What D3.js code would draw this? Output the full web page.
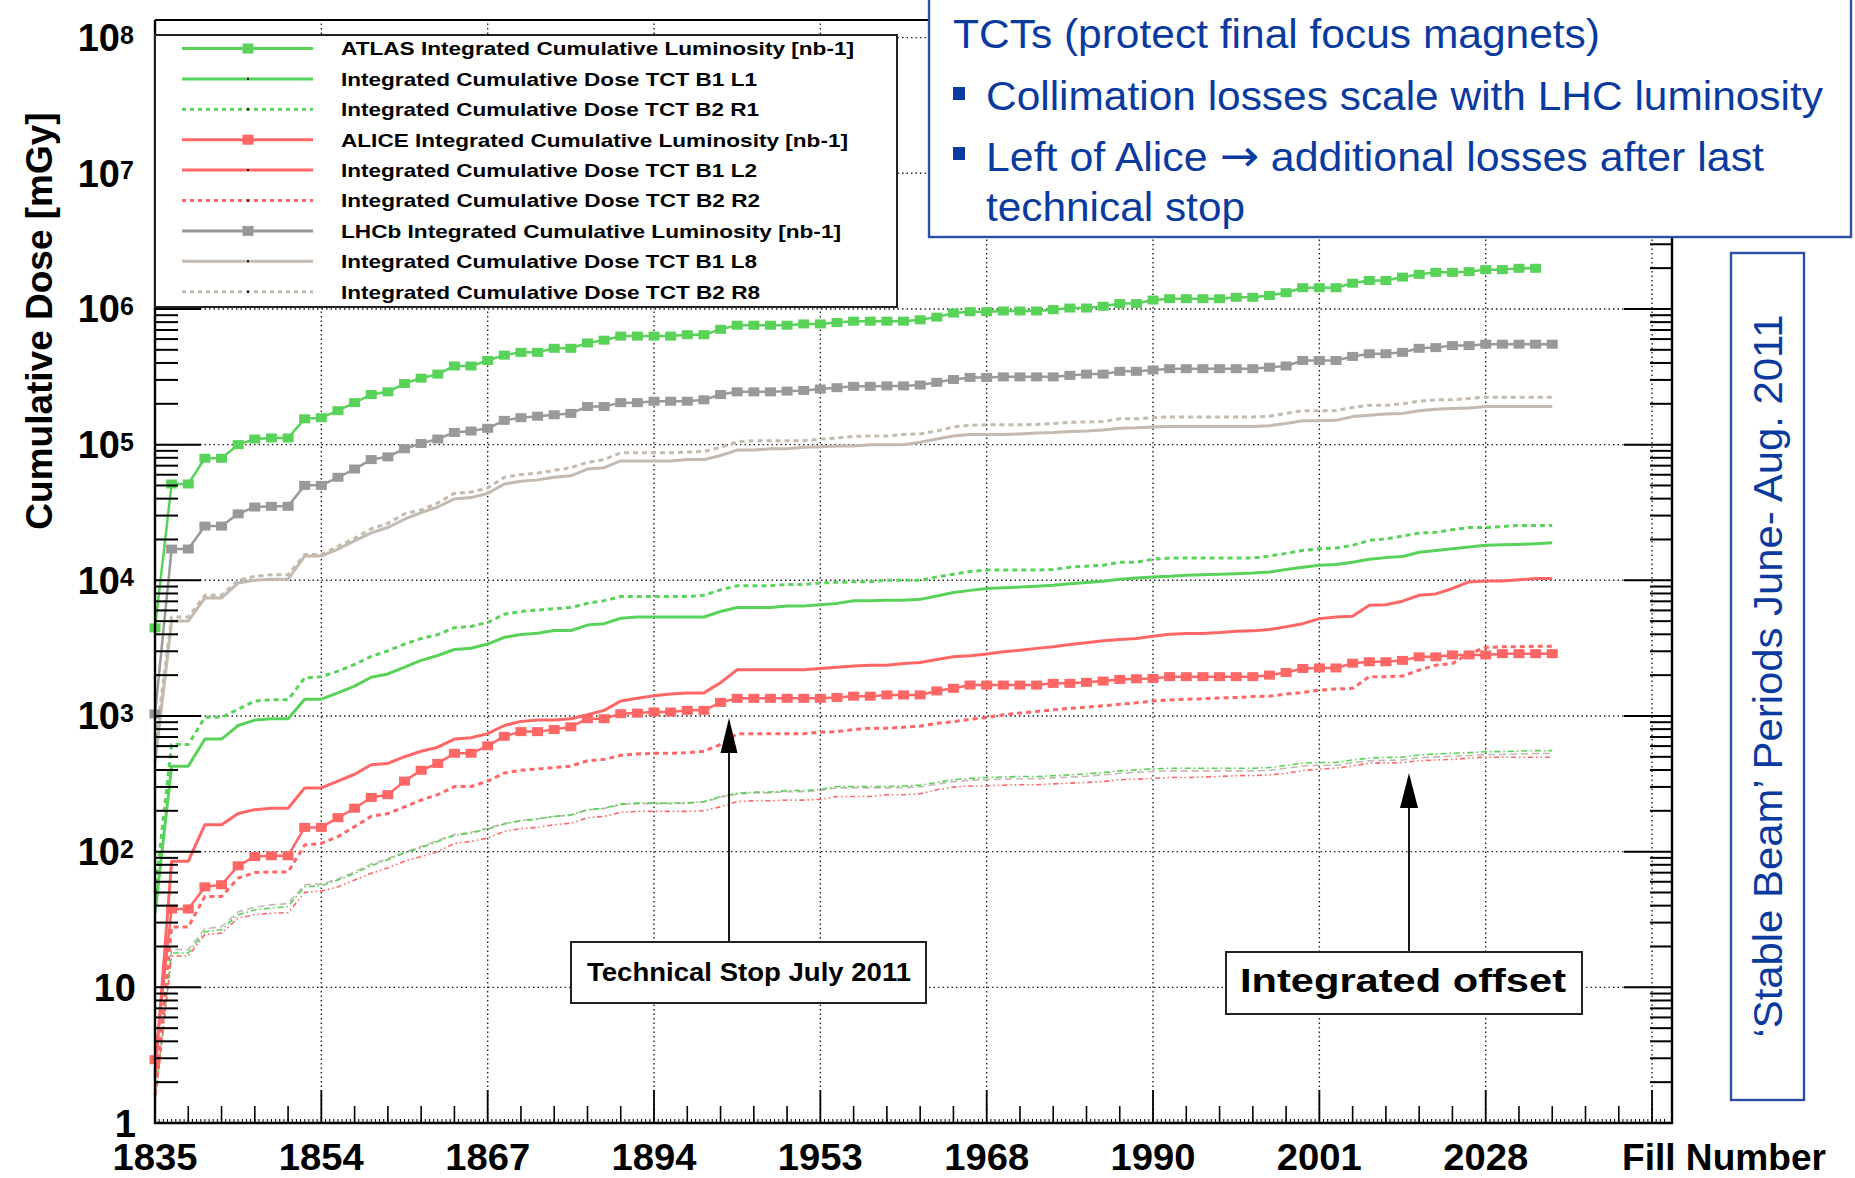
<!DOCTYPE html>
<html>
<head>
<meta charset="utf-8">
<script src="https://cdn.jsdelivr.net/npm/d3@7/dist/d3.min.js"></script>
<style>
  body { margin: 0; background: #fff; }
  svg { display: block; font-family: "Liberation Sans", Arial, sans-serif; }
</style>
</head>
<body>
<svg id="chart"></svg>
<script>
// Fill numbers shown under the major ticks (every 10th fill)
const fillLabels = ["1835", "1854", "1867", "1894", "1953", "1968", "1990", "2001", "2028"];

// Integrated luminosities [nb-1]
const atlasLumi = [4460, 51300, 51300, 79400, 79400, 100000, 110000, 112000, 112000, 155000,
  158000, 178000, 204000, 234000, 245000, 282000, 309000, 331000, 380000, 380000,
  417000, 457000, 479000, 479000, 513000, 513000, 562000, 589000, 631000, 631000,
  631000, 631000, 646000, 646000, 708000, 759000, 759000, 759000, 759000, 776000,
  776000, 794000, 813000, 813000, 813000, 813000, 832000, 871000, 933000, 955000,
  955000, 966000, 966000, 966000, 989000, 1016000, 1016000, 1047000, 1096000, 1096000,
  1164000, 1191000, 1191000, 1191000, 1191000, 1219000, 1219000, 1259000, 1318000, 1435000,
  1435000, 1435000, 1549000, 1622000, 1622000, 1718000, 1799000, 1862000, 1862000, 1884000,
  1950000, 1950000, 1995000, 1995000];
const aliceLumi = [2.93, 37.8, 37.8, 55, 57, 78.7, 92, 93.3, 93.3, 151,
  151, 178, 209, 251, 263, 331, 398, 447, 531, 531,
  603, 708, 767, 767, 794, 832, 955, 955, 1040, 1050,
  1070, 1070, 1100, 1100, 1260, 1350, 1350, 1350, 1350, 1350,
  1350, 1370, 1400, 1400, 1430, 1430, 1430, 1530, 1600, 1690,
  1690, 1690, 1690, 1690, 1740, 1740, 1770, 1810, 1860, 1880,
  1890, 1950, 1950, 1950, 1950, 1950, 1950, 2000, 2090, 2240,
  2260, 2260, 2450, 2510, 2510, 2570, 2730, 2730, 2820, 2820,
  2820, 2880, 2880, 2880, 2880];
const lhcbLumi = [1035, 17000, 17000, 25100, 25100, 30900, 34700, 35100, 35100, 50100,
  50100, 57500, 66100, 77600, 81300, 93300, 102000, 110000, 123000, 126000,
  132000, 151000, 158000, 162000, 166000, 170000, 191000, 191000, 204000, 204000,
  209000, 209000, 209000, 214000, 234000, 245000, 245000, 245000, 248000, 251000,
  257000, 263000, 269000, 269000, 271000, 271000, 275000, 288000, 302000, 313000,
  313000, 316000, 316000, 316000, 316000, 324000, 331000, 331000, 347000, 347000,
  355000, 363000, 363000, 363000, 363000, 363000, 363000, 372000, 380000, 417000,
  417000, 417000, 447000, 468000, 468000, 479000, 513000, 519000, 537000, 537000,
  550000, 550000, 550000, 550000, 550000];

// Integrated cumulative doses on the TCTs [mGy]
const tctB1L1 = [35, 427, 427, 676, 676, 851, 933, 955, 955, 1330,
  1330, 1480, 1660, 1930, 2040, 2290, 2570, 2790, 3090, 3160,
  3390, 3800, 3980, 4070, 4270, 4270, 4680, 4790, 5250, 5370,
  5370, 5370, 5370, 5370, 5890, 6310, 6310, 6310, 6460, 6460,
  6610, 6760, 7080, 7080, 7130, 7130, 7240, 7670, 8130, 8430,
  8710, 8830, 8910, 9040, 9180, 9440, 9620, 9840, 10200, 10400,
  10600, 10700, 10900, 11000, 11100, 11200, 11300, 11500, 12000, 12500,
  12900, 13100, 13600, 14300, 14700, 15000, 16100, 16600, 17100, 17600,
  18100, 18300, 18400, 18600, 18900];
const tctB2R1 = [50, 617, 617, 977, 977, 1120, 1290, 1320, 1320, 1910,
  1950, 2140, 2400, 2750, 3020, 3390, 3720, 3980, 4470, 4570,
  4900, 5620, 5890, 6030, 6170, 6310, 6760, 7080, 7590, 7590,
  7590, 7590, 7590, 7760, 8510, 9120, 9120, 9120, 9330, 9330,
  9550, 9660, 9770, 9770, 10000, 10000, 10000, 10600, 11100, 11600,
  11900, 11900, 11900, 11900, 12000, 12500, 12700, 12900, 13600, 13600,
  14300, 14600, 14600, 14600, 14600, 14600, 14600, 15100, 15800, 16600,
  17100, 17300, 18100, 19700, 20200, 21200, 22300, 22600, 23600, 24500,
  24500, 24900, 25400, 25400, 25400];
const tctB1L2 = [2.2, 85, 85, 158, 158, 191, 204, 209, 209, 295,
  295, 331, 372, 437, 447, 501, 550, 589, 676, 692,
  741, 851, 912, 933, 933, 955, 1020, 1100, 1290, 1350,
  1410, 1450, 1480, 1480, 1760, 2190, 2190, 2190, 2190, 2190,
  2240, 2290, 2340, 2370, 2370, 2440, 2480, 2610, 2730, 2780,
  2860, 2970, 3050, 3150, 3240, 3370, 3470, 3580, 3660, 3720,
  3870, 4010, 4060, 4060, 4120, 4220, 4240, 4340, 4540, 4790,
  5220, 5370, 5430, 6550, 6610, 7020, 7760, 7940, 8710, 9730,
  9890, 9890, 10100, 10300, 10300];
const tctB2R2 = [1.6, 27.8, 27.8, 46.8, 46.8, 63.8, 70.1, 70.8, 70.8, 112,
  115, 129, 153, 182, 191, 214, 240, 263, 302, 302,
  331, 380, 398, 407, 417, 427, 468, 479, 513, 525,
  531, 531, 537, 550, 617, 741, 741, 741, 741, 741,
  759, 767, 794, 813, 813, 826, 843, 883, 908, 944,
  977, 1020, 1050, 1080, 1110, 1140, 1160, 1190, 1220, 1250,
  1290, 1310, 1330, 1340, 1360, 1370, 1390, 1400, 1450, 1490,
  1550, 1580, 1600, 1950, 1950, 1970, 2180, 2370, 2440, 2880,
  3200, 3240, 3240, 3270, 3270];
const tctB1L8 = [450, 5010, 5010, 7410, 7410, 9550, 10000, 10200, 10200, 15100,
  15100, 17000, 19500, 22400, 24500, 28200, 31600, 34700, 39800, 40700,
  43700, 51300, 53700, 55000, 57500, 58900, 66100, 67600, 75900, 75900,
  75900, 75900, 77600, 77600, 83200, 91200, 91200, 93300, 93300, 95500,
  96600, 97700, 97700, 100000, 100000, 100000, 104000, 110000, 116000, 119000,
  119000, 119000, 120000, 122000, 123000, 125000, 126000, 128000, 132000, 133000,
  135000, 136000, 136000, 136000, 136000, 136000, 136000, 138000, 143000, 150000,
  150000, 151000, 161000, 165000, 168000, 170000, 178000, 182000, 185000, 186000,
  191000, 191000, 191000, 191000, 191000];
const tctB2R8 = [600, 5370, 5370, 7760, 7760, 10000, 10700, 11000, 11000, 15500,
  15500, 17800, 20400, 24000, 26300, 30900, 33100, 37200, 43700, 44700,
  47900, 57500, 60300, 61700, 64600, 67600, 74100, 77600, 87100, 87100,
  87100, 87100, 88100, 89100, 95500, 105000, 107000, 107000, 107000, 107000,
  110000, 112000, 115000, 116000, 116000, 119000, 120000, 126000, 135000, 139000,
  140000, 140000, 140000, 141000, 143000, 146000, 147000, 148000, 155000, 155000,
  158000, 160000, 160000, 160000, 160000, 160000, 160000, 162000, 170000, 178000,
  178000, 178000, 188000, 195000, 195000, 200000, 209000, 214000, 214000, 219000,
  224000, 224000, 224000, 224000, 224000];

// Integrated offsets (thin lines at the bottom, not in the legend)
const offsetL1 = [1.5, 17.9, 17.9, 25.7, 26.6, 34.3, 37.2, 38.4, 39.4, 55,
  56.2, 61.7, 69.2, 78.7, 87.1, 97.7, 107, 119, 132, 137,
  147, 160, 169, 174, 182, 186, 204, 209, 224, 228,
  228, 228, 229, 234, 255, 269, 275, 275, 282, 282,
  288, 302, 302, 302, 302, 305, 309, 324, 339, 347,
  352, 355, 358, 358, 363, 368, 374, 383, 394, 401,
  407, 412, 412, 412, 412, 412, 412, 417, 432, 449,
  454, 454, 474, 490, 494, 497, 516, 525, 531, 537,
  546, 546, 552, 556, 556];
const offsetL8 = [1.5, 19, 19, 27, 28, 36, 39, 40.5, 41.5, 57,
  58, 63, 71, 81, 89, 99, 109, 121, 134, 139,
  149, 161, 170, 175, 182, 186, 203, 208, 222, 226,
  226, 226, 227, 232, 252, 266, 271, 271, 277, 277,
  282, 295, 295, 295, 295, 297, 300, 314, 328, 336,
  340, 342, 345, 345, 350, 354, 360, 368, 378, 384,
  390, 394, 394, 394, 394, 394, 394, 398, 412, 428,
  433, 433, 452, 467, 471, 474, 492, 500, 506, 511,
  520, 520, 525, 529, 529];
const offsetL2 = [1.4, 17, 17, 24.5, 25.1, 32.4, 34.3, 35.2, 35.5, 50.1,
  51.3, 55, 61.7, 69.2, 75.9, 85.1, 92, 100, 115, 119,
  126, 141, 148, 151, 158, 162, 178, 182, 195, 198,
  198, 198, 198, 200, 214, 234, 237, 237, 240, 240,
  243, 255, 255, 255, 263, 263, 267, 286, 299, 305,
  305, 309, 311, 311, 316, 320, 324, 329, 339, 342,
  347, 352, 352, 355, 358, 363, 364, 368, 378, 396,
  406, 412, 429, 449, 449, 454, 468, 474, 479, 490,
  497, 497, 497, 497, 497];

const width = 1855;
const height = 1178;
const green = "#58d258", red = "#ff6666", grey = "#999999", tan = "#c4baaf";
const blue = "#0a3a9e";

const svg = d3.select("#chart")
    .attr("width", width)
    .attr("height", height);

const x = d3.scaleLinear().domain([0, 91.2]).range([155, 1672]);
const y = d3.scaleLog().domain([1, Math.pow(10, 8.13)]).range([1123, 20]);

const series = [
    {values: offsetL8, color: tan, w: 1.6, dash: "7,4"},
    {values: offsetL1, color: green, w: 1.6, dash: "6,3,1.5,3"},
    {values: offsetL2, color: red, w: 1.6, dash: "5,3,1.5,3,1.5,3"},
    {name: "Integrated Cumulative Dose TCT B1 L8", values: tctB1L8, color: tan, w: 3, leg: 7},
    {name: "Integrated Cumulative Dose TCT B2 R8", values: tctB2R8, color: tan, w: 3, dash: "5,4", leg: 8},
    {name: "Integrated Cumulative Dose TCT B1 L1", values: tctB1L1, color: green, w: 3, leg: 1},
    {name: "Integrated Cumulative Dose TCT B2 R1", values: tctB2R1, color: green, w: 3, dash: "5,4", leg: 2},
    {name: "Integrated Cumulative Dose TCT B1 L2", values: tctB1L2, color: red, w: 3, leg: 4},
    {name: "Integrated Cumulative Dose TCT B2 R2", values: tctB2R2, color: red, w: 3, dash: "5,4", leg: 5},
    {name: "LHCb Integrated Cumulative Luminosity [nb-1]", values: lhcbLumi, color: grey, w: 2.5, marker: true, leg: 6},
    {name: "ALICE Integrated Cumulative Luminosity [nb-1]", values: aliceLumi, color: red, w: 2.5, marker: true, leg: 3},
    {name: "ATLAS Integrated Cumulative Luminosity [nb-1]", values: atlasLumi, color: green, w: 2.5, marker: true, leg: 0}
];

// Grid
const grid = svg.append("g")
    .attr("stroke", "#222")
    .attr("stroke-width", 1.4)
    .attr("stroke-dasharray", "1.5,3");
grid.selectAll("line.v")
    .data(d3.range(10, 91, 10))
    .enter().append("line")
    .attr("x1", d => x(d)).attr("x2", d => x(d))
    .attr("y1", y(1)).attr("y2", 20);
grid.selectAll("line.h")
    .data(d3.range(1, 9).map(k => Math.pow(10, k)))
    .enter().append("line")
    .attr("x1", 155).attr("x2", 1672)
    .attr("y1", d => y(d)).attr("y2", d => y(d));

// Series
const line = d3.line()
    .x((d, i) => x(i))
    .y(d => y(d));

const plot = svg.append("g");
series.forEach(s => {
    plot.append("path")
        .attr("d", line(s.values))
        .attr("fill", "none")
        .attr("stroke", s.color)
        .attr("stroke-width", s.w)
        .attr("stroke-dasharray", s.dash || null)
        .attr("stroke-linejoin", "round");
    if (s.marker) {
        plot.append("g").selectAll("rect")
            .data(s.values)
            .enter().append("rect")
            .attr("x", (d, i) => x(i) - 5.5)
            .attr("y", d => y(d) - 4.5)
            .attr("width", 11)
            .attr("height", 9)
            .attr("fill", s.color);
    }
});

// Axes frame and ticks
const axes = svg.append("g").attr("stroke", "#000");
axes.append("line").attr("x1", 155).attr("x2", 155).attr("y1", 20).attr("y2", 1124).attr("stroke-width", 2.4);
axes.append("line").attr("x1", 154).attr("x2", 1673).attr("y1", 1123).attr("y2", 1123).attr("stroke-width", 2.6);
axes.append("line").attr("x1", 1672).attr("x2", 1672).attr("y1", 20).attr("y2", 1124).attr("stroke-width", 2.4);
axes.append("line").attr("x1", 155).attr("x2", 1672).attr("y1", 20).attr("y2", 20).attr("stroke-width", 2);

const majorY = d3.range(0, 9).map(k => Math.pow(10, k));
const minorY = [];
d3.range(0, 8).forEach(k => d3.range(2, 10).forEach(m => minorY.push(m * Math.pow(10, k))));

axes.selectAll("line.ymaj")
    .data(majorY).enter().append("line")
    .attr("stroke-width", 2)
    .attr("x1", 155).attr("x2", 201)
    .attr("y1", d => y(d)).attr("y2", d => y(d));
axes.selectAll("line.ymin")
    .data(minorY).enter().append("line")
    .attr("stroke-width", 2)
    .attr("x1", 155).attr("x2", 178)
    .attr("y1", d => y(d)).attr("y2", d => y(d));
axes.selectAll("line.ymajr")
    .data(majorY).enter().append("line")
    .attr("stroke-width", 2)
    .attr("x1", 1624).attr("x2", 1672)
    .attr("y1", d => y(d)).attr("y2", d => y(d));
axes.selectAll("line.yminr")
    .data(minorY).enter().append("line")
    .attr("stroke-width", 2)
    .attr("x1", 1650).attr("x2", 1672)
    .attr("y1", d => y(d)).attr("y2", d => y(d));

axes.selectAll("line.xmaj")
    .data(d3.range(0, 91, 10)).enter().append("line")
    .attr("stroke-width", 1.8)
    .attr("x1", d => x(d)).attr("x2", d => x(d))
    .attr("y1", 1123).attr("y2", 1090);
axes.selectAll("line.xmin")
    .data(d3.range(0, 91, 2).filter(d => d % 10 !== 0)).enter().append("line")
    .attr("stroke-width", 1.6)
    .attr("x1", d => x(d)).attr("x2", d => x(d))
    .attr("y1", 1123).attr("y2", 1106);
axes.selectAll("line.xtiny")
    .data(d3.range(0, 91, 0.25)).enter().append("line")
    .attr("stroke-width", 1)
    .attr("x1", d => x(d)).attr("x2", d => x(d))
    .attr("y1", 1123).attr("y2", 1119);

// Y tick labels
const ylab = svg.append("g")
    .attr("font-weight", "bold")
    .attr("font-size", 38)
    .attr("fill", "#000");
ylab.append("text").attr("x", 136).attr("y", y(1) + 13.5).attr("text-anchor", "end").text("1");
ylab.append("text").attr("x", 136).attr("y", y(10) + 13.5).attr("text-anchor", "end").text("10");
d3.range(2, 9).forEach(k => {
    ylab.append("text").attr("x", 120).attr("y", y(Math.pow(10, k)) + 13.5)
        .attr("text-anchor", "end").text("10");
    ylab.append("text").attr("x", 120).attr("y", y(Math.pow(10, k)) + 6)
        .attr("font-size", 25).text(k);
});

// X tick labels
svg.append("g")
    .attr("font-weight", "bold")
    .attr("font-size", 37)
    .selectAll("text")
    .data(fillLabels).enter().append("text")
    .attr("x", (d, i) => x(i * 10) - 42.5)
    .attr("y", 1170)
    .attr("textLength", 85)
    .attr("lengthAdjust", "spacingAndGlyphs")
    .text(d => d);

svg.append("text")
    .attr("x", 1622).attr("y", 1170)
    .attr("font-weight", "bold").attr("font-size", 37)
    .attr("textLength", 204).attr("lengthAdjust", "spacingAndGlyphs")
    .text("Fill Number");

svg.append("text")
    .attr("transform", "translate(52,321) rotate(-90)")
    .attr("text-anchor", "middle")
    .attr("font-weight", "bold").attr("font-size", 37)
    .text("Cumulative Dose [mGy]");

// Legend
const legend = svg.append("g");
legend.append("rect")
    .attr("x", 155).attr("y", 35).attr("width", 742).attr("height", 272)
    .attr("fill", "#fff").attr("stroke", "#222").attr("stroke-width", 2);
const legendWidths = [513, 416, 418, 507, 416, 419, 500, 416, 419];
series.filter(s => s.name).forEach(s => {
    const cy = 48.5 + s.leg * 30.4;
    legend.append("line")
        .attr("x1", 182).attr("x2", 313).attr("y1", cy).attr("y2", cy)
        .attr("stroke", s.color).attr("stroke-width", 3)
        .attr("stroke-dasharray", s.dash ? "4,4" : null);
    if (s.marker) {
        legend.append("rect").attr("x", 242.5).attr("y", cy - 5).attr("width", 11).attr("height", 10).attr("fill", s.color);
    } else {
        legend.append("rect").attr("x", 247).attr("y", cy - 1).attr("width", 2).attr("height", 2).attr("fill", "#000");
    }
    legend.append("text")
        .attr("x", 341).attr("y", cy + 6.8)
        .attr("font-weight", "bold").attr("font-size", 19)
        .attr("textLength", legendWidths[s.leg]).attr("lengthAdjust", "spacingAndGlyphs")
        .text(s.name);
});

// Annotations with arrows
function arrow(xa, yTop, yBase, yTip, headW) {
    svg.append("line").attr("x1", xa).attr("x2", xa).attr("y1", yTop).attr("y2", yBase)
        .attr("stroke", "#000").attr("stroke-width", 1.8);
    svg.append("path")
        .attr("d", `M${xa},${yTip} L${xa + headW / 2},${yBase} L${xa - headW / 2},${yBase} Z`)
        .attr("fill", "#000");
}
arrow(729, 942, 753, 718, 17);
arrow(1409, 952, 808, 773, 18);

svg.append("rect").attr("x", 571).attr("y", 942).attr("width", 355).attr("height", 61)
    .attr("fill", "#fff").attr("stroke", "#222").attr("stroke-width", 2);
svg.append("text").attr("x", 587).attr("y", 981)
    .attr("font-weight", "bold").attr("font-size", 25)
    .attr("textLength", 324).attr("lengthAdjust", "spacingAndGlyphs")
    .text("Technical Stop July 2011");

svg.append("rect").attr("x", 1226).attr("y", 952).attr("width", 356).attr("height", 62)
    .attr("fill", "#fff").attr("stroke", "#222").attr("stroke-width", 2);
svg.append("text").attr("x", 1240).attr("y", 992)
    .attr("font-weight", "bold").attr("font-size", 33)
    .attr("textLength", 326).attr("lengthAdjust", "spacingAndGlyphs")
    .text("Integrated offset");

// Blue text box, top right
svg.append("rect").attr("x", 929).attr("y", -5).attr("width", 922).attr("height", 242)
    .attr("fill", "#fff").attr("stroke", "#2a4ea6").attr("stroke-width", 2.4);
const note = svg.append("g").attr("fill", blue).attr("font-size", 40);
note.append("text").attr("x", 953).attr("y", 48)
    .attr("textLength", 647).attr("lengthAdjust", "spacingAndGlyphs")
    .text("TCTs (protect final focus magnets)");
note.append("rect").attr("x", 953).attr("y", 87).attr("width", 12).attr("height", 13);
note.append("text").attr("x", 986).attr("y", 110)
    .attr("textLength", 837).attr("lengthAdjust", "spacingAndGlyphs")
    .text("Collimation losses scale with LHC luminosity");
note.append("rect").attr("x", 953).attr("y", 147).attr("width", 12).attr("height", 13);
const leftOf = note.append("text").attr("x", 986).attr("y", 171)
    .attr("textLength", 778).attr("lengthAdjust", "spacingAndGlyphs");
leftOf.append("tspan").text("Left of Alice ");
leftOf.append("tspan").attr("font-family", "DejaVu Sans").attr("font-size", 44).text("\u2192");
leftOf.append("tspan").text(" additional losses after last");
note.append("text").attr("x", 986).attr("y", 221)
    .attr("textLength", 259).attr("lengthAdjust", "spacingAndGlyphs")
    .text("technical stop");

// Rotated blue box, right side
svg.append("rect").attr("x", 1731).attr("y", 253).attr("width", 73).attr("height", 847)
    .attr("fill", "#fff").attr("stroke", "#2a4ea6").attr("stroke-width", 2.4);
svg.append("text")
    .attr("transform", "translate(1782,676) rotate(-90)")
    .attr("text-anchor", "middle")
    .attr("fill", blue).attr("font-size", 40)
    .attr("textLength", 723).attr("lengthAdjust", "spacingAndGlyphs")
    .text("\u2018Stable Beam\u2019 Periods June- Aug. 2011");
</script>
</body>
</html>
